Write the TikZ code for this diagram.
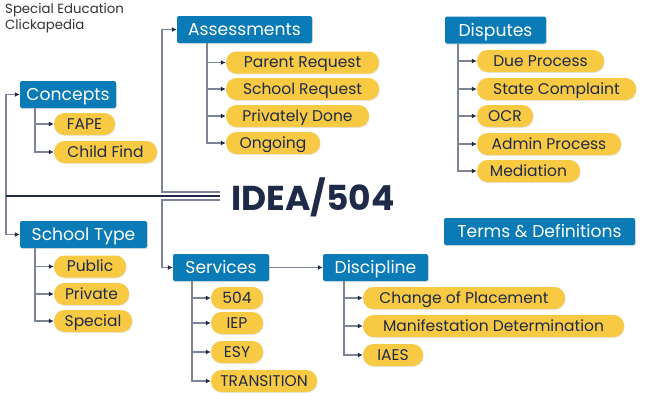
\documentclass[tikz,border=0pt]{standalone}
\usepackage{fontspec}
\setmainfont{Poppins}
\usetikzlibrary{arrows.meta,shadows}
\definecolor{boxblue}{HTML}{0A7BB6}
\definecolor{pillyel}{HTML}{F8C942}
\definecolor{navy}{HTML}{1E2A47}
\definecolor{conngray}{HTML}{7D8494}
\begin{document}
\begin{tikzpicture}[x=1pt,y=1pt,
  bluebox/.style={fill=boxblue, text=white, rounded corners=2pt, minimum height=27pt,
     inner sep=0pt, font=\fontsize{17.2}{19}\selectfont, text height=12pt, text depth=0pt,
     drop shadow={opacity=0.25, shadow xshift=0.8pt, shadow yshift=-1.2pt}},
  pill/.style={fill=pillyel, text=navy, rounded corners=10.5pt, minimum height=22pt,
     inner sep=0pt, font=\fontsize{15.5}{17}\selectfont, text height=10.9pt, text depth=0pt,
     drop shadow={opacity=0.2, shadow xshift=0.6pt, shadow yshift=-1pt}},
  conn/.style={draw=conngray, line width=1.5pt},
  arr/.style={-{Latex[length=5pt,width=5pt,color=navy]}},
  hubline/.style={draw=navy, line width=1.2pt}]
\useasboundingbox (0,0) rectangle (645,-400);
% title
\node[anchor=north west, align=left, text=black!80, font=\fontsize{13.3}{16}\selectfont, inner sep=0pt] (title) at (5,-3) {Special Education\\Clickapedia};
% hub
\node[text=navy, font=\fontsize{34.5}{40}\bfseries\selectfont, inner sep=0pt, text height=24.2pt, text depth=0pt] (idea) at (313,-198) {IDEA/504};
% main boxes
\node[bluebox, minimum width=135pt] (assess) at (244.5,-29.5) {Assessments};
\node[bluebox, minimum width=96pt] (concepts) at (68,-94.5) {Concepts};
\node[bluebox, minimum width=101pt] (disputes) at (495.5,-30) {Disputes};
\node[bluebox, minimum width=127pt] (school) at (83.5,-234.5) {School Type};
\node[bluebox, minimum width=96pt] (services) at (221,-267.5) {Services};
\node[bluebox, minimum width=105pt] (disc) at (375.5,-267.5) {Discipline};
\node[bluebox, minimum width=191pt] (terms) at (539.5,-231.5) {Terms \& Definitions};
% pills - assessments
\node[pill, minimum width=153pt] (pr) at (302.5,-62.5) {Parent Request};
\node[pill, minimum width=153pt] (sr) at (302.5,-89) {School Request};
\node[pill, minimum width=143pt] (pd) at (297.5,-116) {Privately Done};
\node[pill, minimum width=94pt] (og) at (273,-143) {Ongoing};
% concepts
\node[pill, minimum width=61pt] (fape) at (84.5,-124) {FAPE};
\node[pill, minimum width=103pt] (cf) at (105.5,-152) {Child Find};
% disputes
\node[pill, minimum width=127pt] (dp) at (540.5,-61) {Due Process};
\node[pill, minimum width=159pt] (sc) at (556.5,-89) {State Complaint};
\node[pill, minimum width=56pt] (ocr) at (505,-116) {OCR};
\node[pill, minimum width=144pt] (ap) at (549,-144) {Admin Process};
\node[pill, minimum width=103pt] (med) at (528.5,-171) {Mediation};
% school type
\node[pill, minimum width=72pt] (pub) at (90,-266.5) {Public};
\node[pill, minimum width=75pt] (priv) at (91.5,-294) {Private};
\node[pill, minimum width=78pt] (spec) at (93,-321) {Special};
% services
\node[pill, minimum width=52pt] (s504) at (237,-298) {504};
\node[pill, minimum width=52pt] (iep) at (237,-323) {IEP};
\node[pill, minimum width=52pt] (esy) at (237,-352) {ESY};
\node[pill, minimum width=106pt] (tr) at (264,-381) {TRANSITION};
% discipline
\node[pill, minimum width=202pt] (cop) at (464,-298) {Change of Placement};
\node[pill, minimum width=261pt] (md) at (493.5,-326) {Manifestation Determination};
\node[pill, minimum width=60pt] (iaes) at (393,-355) {IAES};
% hub connectors
\coordinate (hubA) at (220,-192);
\coordinate (hubS) at (220,-200);
\coordinate (hubL) at (220,-196);
\coordinate (jL) at (6,-196);
\coordinate (jA) at (162,-192);
\coordinate (jS) at (162,-200);
\draw[conn, arr] (jL) |- (concepts.west);
\draw[conn, arr] (jL) |- (school.west);
\draw[conn, arr] (hubA) -- (jA) |- (assess.west);
\draw[conn, arr] (hubS) -- (jS) |- (services.west);
\draw[hubline] (hubL) -- (jL);
% child connectors
\coordinate (aT) at ([xshift=30pt]assess.south west);
\foreach \c in {pr,sr,pd,og} \draw[conn, arr] (aT) |- (\c.west);
\coordinate (cT) at ([xshift=15pt]concepts.south west);
\foreach \c in {fape,cf} \draw[conn, arr] (cT) |- (\c.west);
\coordinate (dT) at ([xshift=13pt]disputes.south west);
\foreach \c in {dp,sc,ocr,ap,med} \draw[conn, arr] (dT) |- (\c.west);
\coordinate (stT) at ([xshift=15pt]school.south west);
\foreach \c in {pub,priv,spec} \draw[conn, arr] (stT) |- (\c.west);
\coordinate (sT) at ([xshift=19pt]services.south west);
\foreach \c in {s504,iep,esy,tr} \draw[conn, arr] (sT) |- (\c.west);
\coordinate (diT) at ([xshift=21pt]disc.south west);
\foreach \c in {cop,md,iaes} \draw[conn, arr] (diT) |- (\c.west);
\draw[conn, arr] (services.east) -- (disc.west);
\end{tikzpicture}
\end{document}
